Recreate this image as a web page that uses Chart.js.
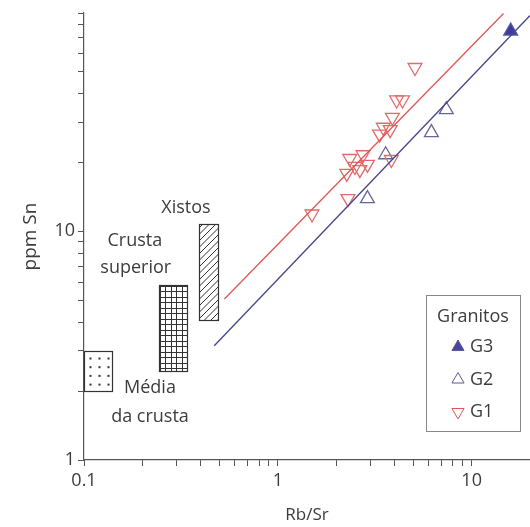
<!DOCTYPE html>
<html>
<head>
<meta charset="utf-8">
<script src="https://cdn.jsdelivr.net/npm/chart.js@4"></script>
<style>
  html, body { margin: 0; padding: 0; background: #fff; }
  #wrap { width: 530px; height: 527px; }
</style>
</head>
<body>
<div id="wrap"><canvas id="c" width="530" height="527"></canvas></div>
<script>
// Rb/Sr vs ppm Sn
const g3 = [{ x: 15.9, y: 75 }];
const g2 = [
  { x: 7.4, y: 34 }, { x: 6.2, y: 27 }, { x: 3.6, y: 21.6 }, { x: 2.9, y: 13.9 }
];
const g1 = [
  { x: 5.1, y: 52 }, { x: 4.1, y: 37.5 }, { x: 4.4, y: 37.5 }, { x: 3.9, y: 31.5 },
  { x: 3.5, y: 28.5 }, { x: 3.8, y: 27.8 }, { x: 3.35, y: 26.6 },
  { x: 2.35, y: 20.8 }, { x: 2.75, y: 21.6 }, { x: 2.5, y: 19.2 }, { x: 2.9, y: 19.6 },
  { x: 2.27, y: 17.9 }, { x: 2.65, y: 18.6 }, { x: 3.85, y: 20.6 },
  { x: 2.3, y: 13.9 }, { x: 1.5, y: 11.9 }
];
const redLine = [{ x: 0.53, y: 5.06 }, { x: 14.6, y: 89.6 }];
const blueLine = [{ x: 0.47, y: 3.16 }, { x: 20, y: 87.8 }];

// reference fields: [xmin, xmax, ymin, ymax, fill]
const fields = [
  [0.1, 0.14, 2.0, 3.0, 'dots'],
  [0.245, 0.34, 2.46, 5.8, 'grid'],
  [0.39, 0.49, 4.1, 10.8, 'hatch']
];
// field labels: [text, x, y]
const fieldLabels = [
  ['Xistos', 0.336, 12.6],
  ['Crusta', 0.183, 9.05],
  ['superior', 0.185, 6.9],
  ['Média', 0.219, 2.06],
  ['da crusta', 0.219, 1.55]
];

const xTicks = [0.1,0.2,0.3,0.4,0.5,0.6,0.7,0.8,0.9,1,2,3,4,5,6,7,8,9,10,20];
const yTicks = [1,2,3,4,5,6,7,8,9,10,20,30,40,50,60,70,80,90];

const textColor = '#3c3c3c';
const axisColor = '#555';
const redC = '#e25555';
const blueC = '#5c5c96';
const font = "'Open Sans', 'DejaVu Sans', sans-serif";

const isDecade = v => Math.abs(Math.log10(v) - Math.round(Math.log10(v))) < 1e-6;

const extras = {
  id: 'extras',
  beforeDatasetsDraw(chart) {
    const { ctx, scales: { x, y } } = chart;
    fields.forEach(([x0, x1, y0, y1, kind]) => {
      const l = Math.round(x.getPixelForValue(x0)) + 0.5;
      const r = Math.round(x.getPixelForValue(x1)) + 0.5;
      const t = Math.round(y.getPixelForValue(y1)) + 0.5;
      const b = Math.round(y.getPixelForValue(y0)) + 0.5;
      ctx.save();
      ctx.beginPath();
      ctx.rect(l, t, r - l, b - t);
      ctx.clip();
      ctx.strokeStyle = '#333';
      ctx.fillStyle = '#333';
      ctx.lineWidth = 1;
      if (kind === 'dots') {
        for (let py = t + 6; py < b - 2; py += 8.7)
          for (let px = l + 5; px < r - 2; px += 9) ctx.fillRect(px, py, 2, 2);
      } else if (kind === 'grid') {
        ctx.beginPath();
        for (let px = l; px <= r; px += 5.5) { ctx.moveTo(Math.round(px) + 0.5, t); ctx.lineTo(Math.round(px) + 0.5, b); }
        for (let py = t; py <= b; py += 5.5) { ctx.moveTo(l, Math.round(py) + 0.5); ctx.lineTo(r, Math.round(py) + 0.5); }
        ctx.stroke();
      } else {
        ctx.beginPath();
        for (let k = -(r - l) - 10; k < (b - t) + 10; k += 6.5) {
          ctx.moveTo(l, t + k + (r - l));
          ctx.lineTo(r, t + k);
        }
        ctx.stroke();
      }
      ctx.restore();
      ctx.save();
      ctx.strokeStyle = '#333';
      ctx.lineWidth = 1.2;
      ctx.strokeRect(l, t, r - l, b - t);
      ctx.restore();
    });

    ctx.save();
    ctx.fillStyle = textColor;
    ctx.font = `18px ${font}`;
    ctx.textAlign = 'center';
    ctx.textBaseline = 'middle';
    fieldLabels.forEach(([txt, vx, vy]) => {
      ctx.fillText(txt, x.getPixelForValue(vx), y.getPixelForValue(vy));
    });
    ctx.restore();
  },
  afterDraw(chart) {
    const { ctx, chartArea } = chart;
    // legend box
    const bx = chartArea.right - 104, by = chartArea.top + 282, bw = 94, bh = 136;
    ctx.save();
    ctx.strokeStyle = '#888';
    ctx.lineWidth = 1;
    ctx.strokeRect(bx + 0.5, by + 0.5, bw, bh);
    ctx.fillStyle = textColor;
    ctx.font = `18px ${font}`;
    ctx.textBaseline = 'middle';
    ctx.textAlign = 'center';
    ctx.fillText('Granitos', bx + bw / 2, by + 22);
    ctx.textAlign = 'left';
    const rows = [
      ['G3', 'up', blueC, true],
      ['G2', 'up', blueC, false],
      ['G1', 'down', redC, false]
    ];
    rows.forEach(([lab, dir, col, fill], i) => {
      const cy = by + 52 + i * 32.5;
      const cx = bx + 32;
      const r = 7;
      ctx.beginPath();
      if (dir === 'up') {
        ctx.moveTo(cx, cy - r);
        ctx.lineTo(cx + r * 0.87, cy + r * 0.5);
        ctx.lineTo(cx - r * 0.87, cy + r * 0.5);
      } else {
        ctx.moveTo(cx, cy + r);
        ctx.lineTo(cx + r * 0.87, cy - r * 0.5);
        ctx.lineTo(cx - r * 0.87, cy - r * 0.5);
      }
      ctx.closePath();
      ctx.strokeStyle = col;
      ctx.lineWidth = 1;
      if (fill) { ctx.fillStyle = '#4a44a0'; ctx.fill(); }
      ctx.stroke();
      ctx.fillStyle = textColor;
      ctx.fillText(lab, cx + 12, cy);
    });
    ctx.restore();
  }
};

const ctx = document.getElementById('c').getContext('2d');
new Chart(ctx, {
  type: 'scatter',
  data: {
    datasets: [
      { type: 'line', data: redLine, borderColor: redC, borderWidth: 1.3, pointRadius: 0, fill: false },
      { type: 'line', data: blueLine, borderColor: '#45458a', borderWidth: 1.3, pointRadius: 0, fill: false },
      { label: 'G1', data: g1, pointStyle: 'triangle', rotation: 180, radius: 8,
        borderColor: '#e46a6a', backgroundColor: 'rgba(255,255,255,0)', borderWidth: 1.3 },
      { label: 'G2', data: g2, pointStyle: 'triangle', radius: 8,
        borderColor: '#66669a', backgroundColor: 'rgba(255,255,255,0)', borderWidth: 1.3 },
      { label: 'G3', data: g3, pointStyle: 'triangle', radius: 8,
        borderColor: '#5a5a9a', backgroundColor: '#3d3a9c', borderWidth: 1.3 }
    ]
  },
  options: {
    responsive: false,
    animation: false,
    layout: { autoPadding: false, padding: { top: 13, right: 0, left: 0, bottom: 0 } },
    plugins: { legend: { display: false }, tooltip: { enabled: false } },
    scales: {
      x: {
        type: 'logarithmic', min: 0.1, max: 20,
        afterBuildTicks: s => { s.ticks = xTicks.map(v => ({ value: v })); },
        afterFit: s => { s.height = 67; s.paddingRight = 0; },
        grid: { drawOnChartArea: false, drawTicks: true, tickLength: 6, color: axisColor },
        border: { color: axisColor, width: 1.2 },
        ticks: { autoSkip: false, maxRotation: 0, padding: 4, color: textColor,
          font: { size: 18, family: font },
          callback: v => isDecade(v) ? String(v) : '' },
        title: { display: true, text: 'Rb/Sr', color: textColor,
          font: { size: 17, family: font }, padding: { top: 0, bottom: 2 } }
      },
      y: {
        type: 'logarithmic', min: 1, max: 90,
        afterBuildTicks: s => { s.ticks = yTicks.map(v => ({ value: v })); },
        afterFit: s => { s.width = 84; s.paddingTop = 0; },
        grid: { drawOnChartArea: false, drawTicks: true, tickLength: 6, color: axisColor },
        border: { color: axisColor, width: 1.2 },
        ticks: { autoSkip: false, padding: 3, color: textColor,
          font: { size: 18, family: font },
          callback: v => isDecade(v) ? String(v) : '' },
        title: { display: true, text: 'ppm Sn', color: textColor,
          font: { size: 19, family: font }, padding: { top: 19, bottom: 0 } }
      }
    }
  },
  plugins: [extras]
});
</script>
</body>
</html>
